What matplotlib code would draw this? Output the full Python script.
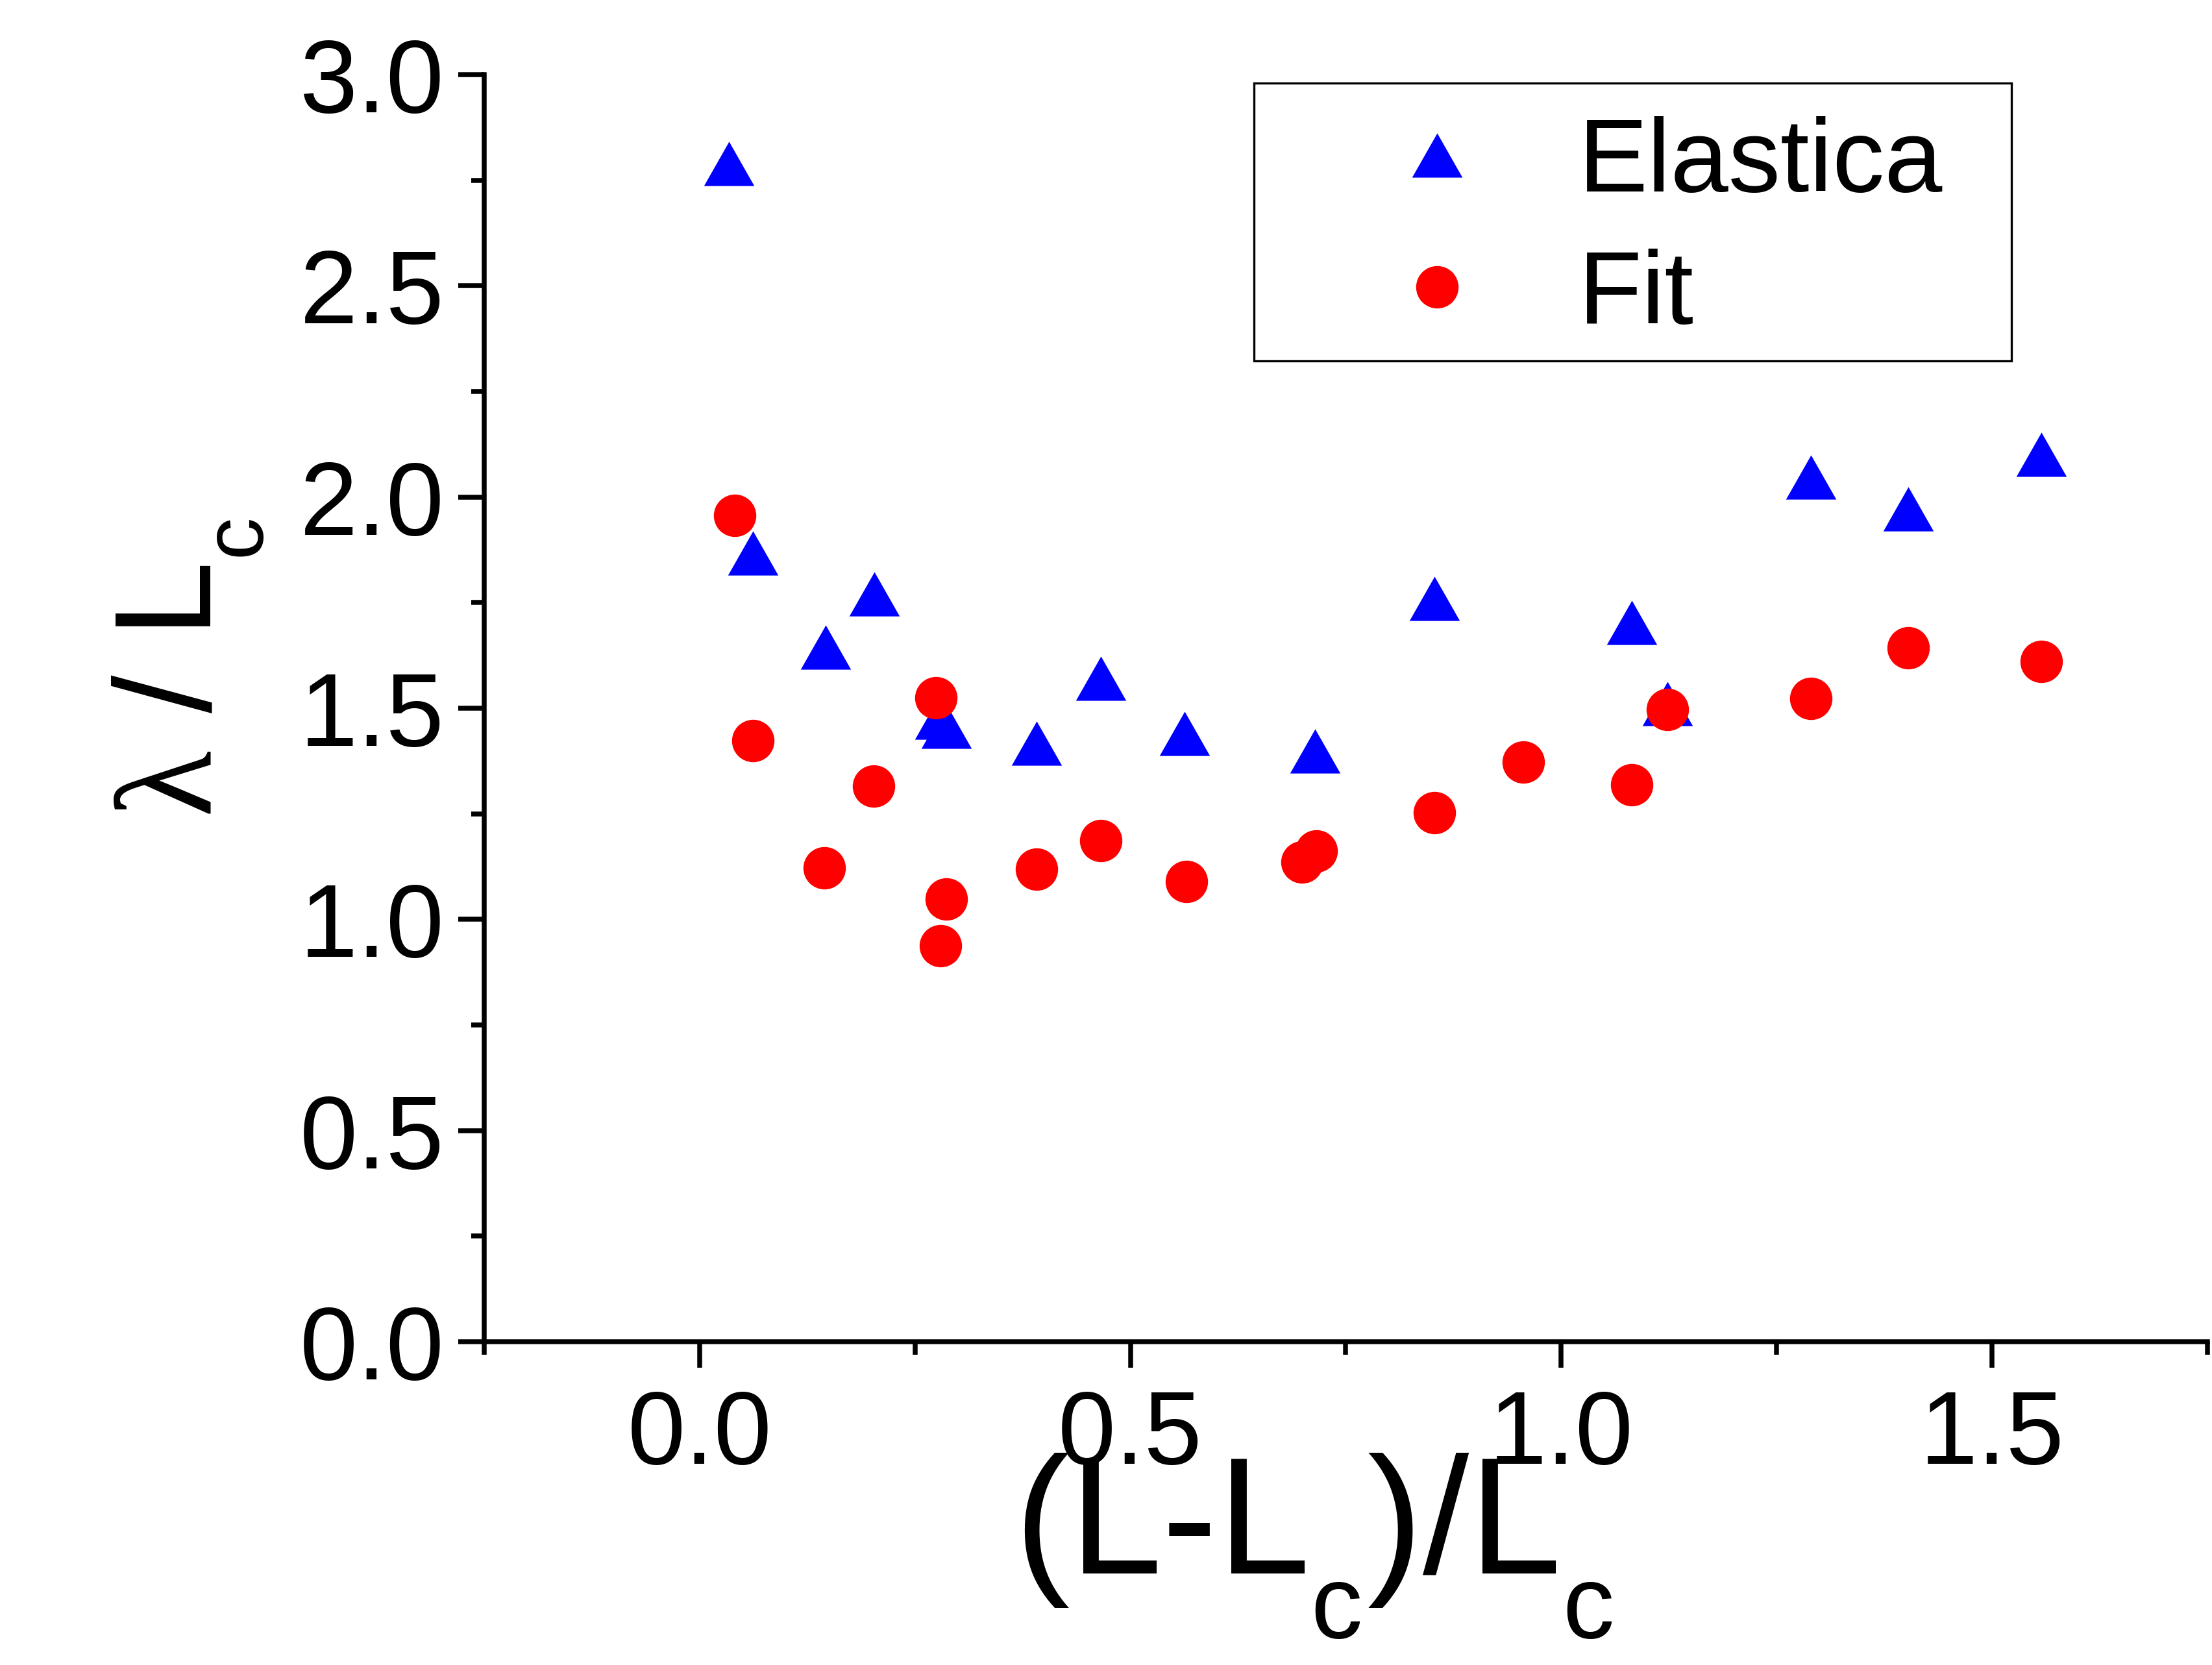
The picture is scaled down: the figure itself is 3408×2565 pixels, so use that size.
import matplotlib
matplotlib.use('Agg')
import matplotlib.pyplot as plt
from matplotlib.ticker import MultipleLocator, FormatStrFormatter
from matplotlib.patches import Rectangle

try:
    import matplotlib._mathtext as _mt
    _mt.FontConstantsBase.sub1 = 0.73
    _mt.SHRINK_FACTOR = 0.62
except Exception:
    pass

plt.rcParams['font.family'] = ['Liberation Sans', 'DejaVu Sans']
plt.rcParams['mathtext.fontset'] = 'custom'
plt.rcParams['mathtext.rm'] = 'Liberation Sans'
plt.rcParams['mathtext.sf'] = 'Liberation Serif'
plt.rcParams['mathtext.default'] = 'regular'

# ---- data ----
elastica_x = [0.034, 0.062, 0.146, 0.203, 0.279, 0.286, 0.391, 0.466, 0.563,
              0.714, 0.853, 1.082, 1.123, 1.290, 1.403, 1.557]
elastica_y = [2.789, 1.867, 1.645, 1.770, 1.479, 1.457, 1.417, 1.571, 1.440,
              1.399, 1.760, 1.703, 1.510, 2.047, 1.971, 2.101]

fit_x = [0.041, 0.062, 0.145, 0.202, 0.2745, 0.286, 0.2795, 0.391, 0.466,
         0.565, 0.699, 0.716, 0.853, 0.956, 1.082, 1.123, 1.290, 1.403, 1.557]
fit_y = [1.957, 1.423, 1.121, 1.316, 1.525, 1.048, 0.937, 1.118, 1.187,
         1.089, 1.136, 1.162, 1.252, 1.373, 1.319, 1.496, 1.523, 1.643, 1.610]

series_labels = ['Elastica', 'Fit']
x_label = r'(L-L$_c$)/L$_c$'
y_label = r'$\mathsf{\lambda}$ / L$_c$'

# ---- figure ----
fig = plt.figure(figsize=(11.36, 8.55), dpi=300)
ax = fig.add_axes([0.2189, 0.1942, 0.7790, 0.7610])

tri = [(-1, -0.88), (1, -0.88), (0, 0.88)]
ax.plot(elastica_x, elastica_y, linestyle='none', marker=tri, markersize=18.6,
        color='#0000ff', mew=0, label=series_labels[0], clip_on=False)
ax.plot(fit_x, fit_y, linestyle='none', marker='o', markersize=15.7,
        color='#ff0000', mew=0, label=series_labels[1], clip_on=False)

ax.set_xlim(-0.25, 1.75)
ax.set_ylim(0, 3.0)
ax.xaxis.set_major_locator(MultipleLocator(0.5))
ax.xaxis.set_minor_locator(MultipleLocator(0.25))
ax.yaxis.set_major_locator(MultipleLocator(0.5))
ax.yaxis.set_minor_locator(MultipleLocator(0.25))
ax.xaxis.set_major_formatter(FormatStrFormatter('%.1f'))
ax.yaxis.set_major_formatter(FormatStrFormatter('%.1f'))

for s in ['top', 'right']:
    ax.spines[s].set_visible(False)
for s in ['left', 'bottom']:
    ax.spines[s].set_linewidth(1.8)

ax.tick_params(which='major', direction='out', length=9.6, width=1.8,
               labelsize=38.5, pad=7.7, top=False, right=False)
ax.tick_params(axis='y', which='major', pad=5.2)
ax.tick_params(which='minor', direction='out', length=4.8, width=1.8,
               top=False, right=False)

ax.set_xlabel(x_label, fontsize=61.5)
ax.xaxis.set_label_coords(0.481, -0.087)
ax.set_ylabel(y_label, fontsize=50.6)
ax.yaxis.set_label_coords(-0.1266, 0.532)

# legend frame
ax.add_patch(Rectangle((0.4467, 0.7741), 0.4395, 0.9933 - 0.7741,
                       transform=ax.transAxes, fill=True, facecolor='white',
                       edgecolor='black', linewidth=0.8, clip_on=False,
                       zorder=4))
leg = ax.legend(loc='upper left', bbox_to_anchor=(0.4442, 0.9877),
                borderaxespad=0, fontsize=38.5, numpoints=1,
                frameon=False, borderpad=0.25, handlelength=3.1,
                handletextpad=-0.19, labelspacing=0.34)
leg.set_zorder(5)

fig.savefig('out.png', dpi=300)
